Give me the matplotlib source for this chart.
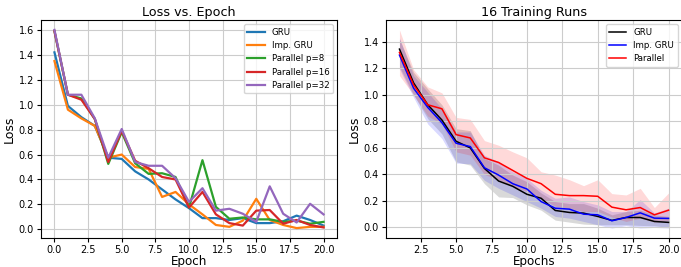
import numpy as np
import matplotlib
matplotlib.use("Agg")
import matplotlib.pyplot as plt

# ----------------
# Données
# ----------------

epochs_left = np.arange(0, 21)
gru = [1.42, 0.99, 0.90, 0.83, 0.575, 0.565, 0.465, 0.40, 0.32, 0.24, 0.17,
       0.09, 0.09, 0.075, 0.09, 0.05, 0.05, 0.065, 0.11, 0.075, 0.03]
imp_gru = [1.35, 0.96, 0.89, 0.83, 0.575, 0.60, 0.50, 0.485, 0.26, 0.30, 0.20,
           0.12, 0.035, 0.02, 0.07, 0.245, 0.075, 0.035, 0.01, 0.02, 0.02]
par8 = [1.59, 1.08, 1.05, 0.885, 0.525, 0.78, 0.53, 0.445, 0.45, 0.42, 0.175,
        0.555, 0.18, 0.085, 0.095, 0.08, 0.08, 0.06, 0.07, 0.045, 0.06]
par16 = [1.59, 1.08, 1.04, 0.885, 0.54, 0.79, 0.55, 0.49, 0.42, 0.40, 0.175,
         0.30, 0.12, 0.05, 0.03, 0.15, 0.155, 0.045, 0.075, 0.035, 0.015]
par32 = [1.60, 1.08, 1.08, 0.89, 0.575, 0.805, 0.54, 0.51, 0.51, 0.41, 0.22,
         0.33, 0.15, 0.165, 0.125, 0.06, 0.345, 0.125, 0.055, 0.205, 0.12]

epochs_right = np.arange(1, 21)
gru_mean = [1.345, 1.09, 0.925, 0.81, 0.65, 0.60, 0.445, 0.35, 0.31, 0.25,
            0.22, 0.128, 0.113, 0.108, 0.083, 0.053, 0.075, 0.075, 0.045, 0.038]
gru_lo = [1.21, 1.0, 0.82, 0.705, 0.495, 0.47, 0.33, 0.23, 0.225, 0.17,
          0.13, 0.055, 0.04, 0.025, 0.02, 0.02, 0.02, 0.015, 0.013, 0.0]
gru_hi = [1.42, 1.17, 1.045, 0.925, 0.745, 0.73, 0.52, 0.47, 0.395, 0.345,
          0.26, 0.195, 0.18, 0.18, 0.145, 0.095, 0.12, 0.13, 0.095, 0.083]

imp_mean = [1.30, 1.05, 0.905, 0.79, 0.635, 0.61, 0.45, 0.395, 0.33, 0.29,
            0.195, 0.145, 0.138, 0.10, 0.095, 0.05, 0.075, 0.11, 0.07, 0.068]
imp_lo = [1.195, 0.98, 0.78, 0.67, 0.485, 0.48, 0.355, 0.295, 0.245, 0.195,
          0.145, 0.083, 0.07, 0.045, 0.02, -0.005, 0.013, -0.005, 0.0, -0.005]
imp_hi = [1.43, 1.145, 1.02, 0.895, 0.72, 0.72, 0.545, 0.495, 0.42, 0.37,
          0.28, 0.22, 0.23, 0.195, 0.17, 0.12, 0.12, 0.21, 0.11, 0.145]

par_mean = [1.32, 1.075, 0.925, 0.895, 0.70, 0.675, 0.525, 0.49, 0.43, 0.37,
            0.33, 0.25, 0.24, 0.24, 0.235, 0.153, 0.133, 0.15, 0.095, 0.13]
par_lo = [1.145, 1.0, 0.84, 0.78, 0.57, 0.545, 0.40, 0.36, 0.31, 0.27,
          0.22, 0.16, 0.145, 0.12, 0.12, 0.078, 0.045, 0.07, 0.04, 0.05]
par_hi = [1.49, 1.19, 1.06, 1.015, 0.83, 0.815, 0.655, 0.62, 0.57, 0.525,
          0.42, 0.395, 0.36, 0.315, 0.36, 0.255, 0.245, 0.295, 0.15, 0.26]

# ----------------
# Figure
# ----------------

fig = plt.figure(figsize=(6.81, 2.67), dpi=100)
ax1 = fig.add_axes([41 / 681, 29 / 267, 296 / 681, 218 / 267])
ax2 = fig.add_axes([386 / 681, 29 / 267, 296 / 681, 218 / 267])

# Tracé de gauche
ax1.plot(epochs_left, gru, label="GRU", lw=1.6)
ax1.plot(epochs_left, imp_gru, label="Imp. GRU", lw=1.6)
ax1.plot(epochs_left, par8, label="Parallel p=8", lw=1.6)
ax1.plot(epochs_left, par16, label="Parallel p=16", lw=1.6)
ax1.plot(epochs_left, par32, label="Parallel p=32", lw=1.6)
ax1.set_title("Loss vs. Epoch", fontsize=9.2, pad=3)
ax1.set_xlabel("Epoch", fontsize=8.6, labelpad=0)
ax1.set_ylabel("Loss", fontsize=9, labelpad=2)
ax1.grid(True, color="#cccccc")
ax1.legend(fontsize=6.2, loc="upper right")

# Tracé de droite
series = [
    ("GRU", "black", gru_mean, gru_lo, gru_hi),
    ("Imp. GRU", "blue", imp_mean, imp_lo, imp_hi),
    ("Parallel", "red", par_mean, par_lo, par_hi),
]
for name, color, m, lo, hi in series:
    ax2.plot(epochs_right, m, color=color, label=name, lw=1.1)
for name, color, m, lo, hi in series:
    ax2.fill_between(epochs_right, lo, hi, color=color, alpha=0.15, lw=0)
ax2.set_title("16 Training Runs", fontsize=9.2, pad=3)
ax2.set_xlabel("Epochs", fontsize=8.6, labelpad=0)
ax2.set_ylabel("Loss", fontsize=9, labelpad=2)
ax2.set_xticks([2.5, 5.0, 7.5, 10.0, 12.5, 15.0, 17.5, 20.0])
ax2.grid(True, color="#cccccc")
ax2.legend(fontsize=6.2, loc="upper right")

for ax in (ax1, ax2):
    ax.tick_params(labelsize=7, length=3, pad=2)

fig.savefig("out.png", dpi=100)
